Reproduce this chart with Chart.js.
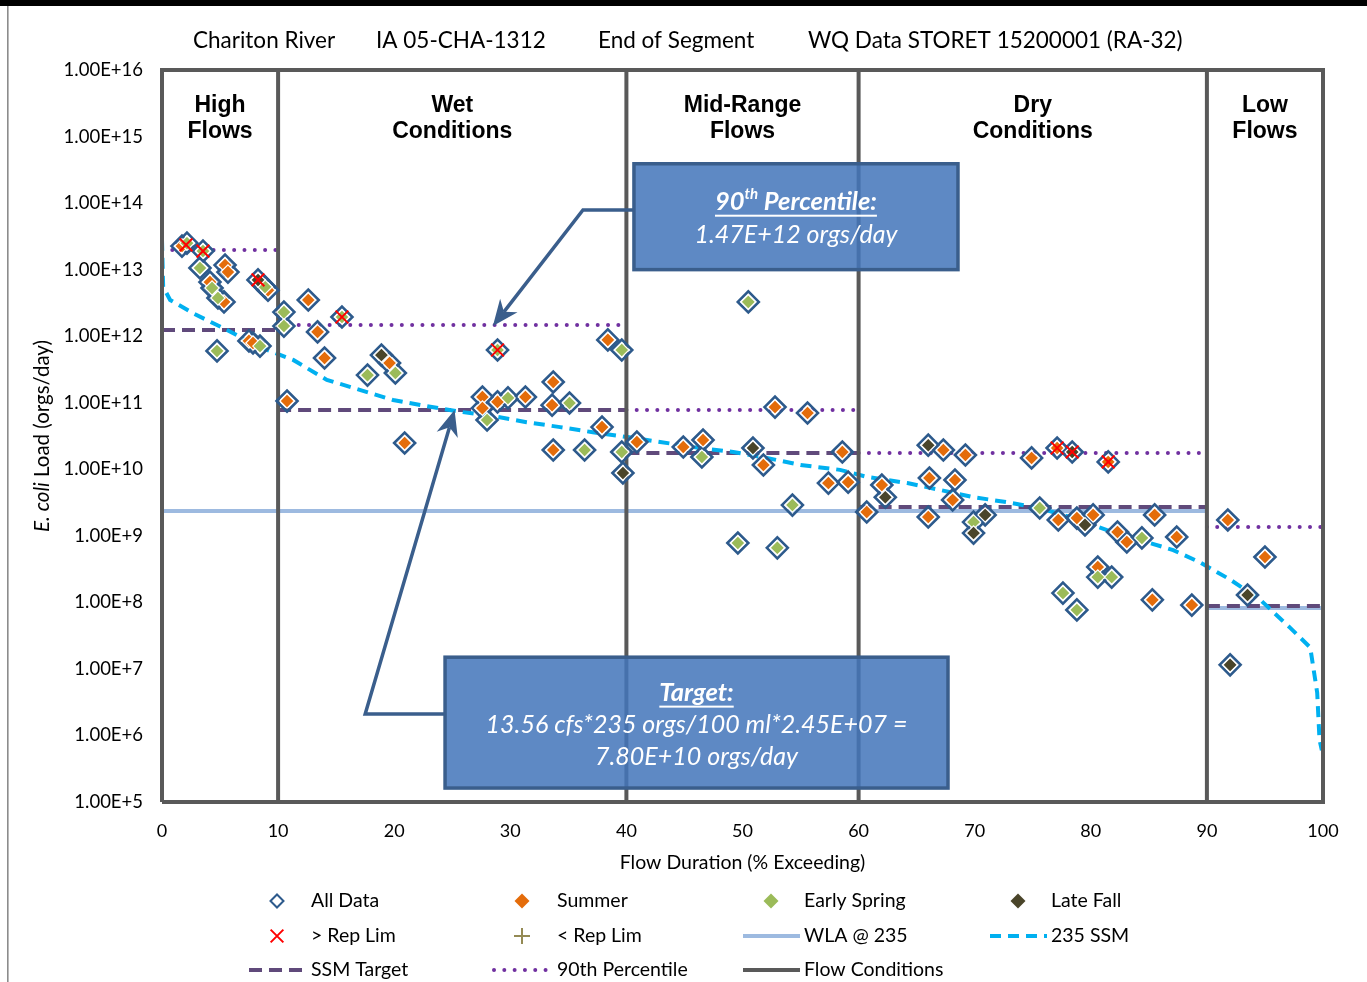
<!DOCTYPE html>
<html>
<head>
<meta charset="utf-8">
<script src="https://cdn.jsdelivr.net/npm/chart.js@4.4.0/dist/chart.umd.min.js"></script>
<style>
  html, body { margin: 0; padding: 0; background: #fff; }
  canvas { display: block; }
</style>
</head>
<body>
<canvas id="c" width="1367" height="982"></canvas>
<script>
// axes
const xTicks = [0, 10, 20, 30, 40, 50, 60, 70, 80, 90, 100];
const yTicks = [1e5, 1e6, 1e7, 1e8, 1e9, 1e10, 1e11, 1e12, 1e13, 1e14, 1e15, 1e16];

// flow zones
const flowEdges = [0, 10, 40, 60, 90, 100];
const zoneNames = [['High', 'Flows'], ['Wet', 'Conditions'], ['Mid-Range', 'Flows'], ['Dry', 'Conditions'], ['Low', 'Flows']];

// step lines per zone
const pct90Vals     = [1.97e13, 1.47e12, 7.8e10, 1.76e10, 1.36e9];
const ssmTargetVals = [1.24e12, 7.80e10, 1.76e10, 2.7e9, 8.8e7];
const wlaEdges = [0, 90, 100];
const wlaVals  = [2.36e9, 8.2e7];

// 235 SSM curve
const ssmCurveX = [0, 0.1, 0.7, 2.7, 5.6, 8.4, 11.3, 14.2, 17.1, 19.9, 22.8, 25.7, 28.5, 31.4, 34.3, 37.1, 40.1, 42.9, 46.3, 49.2, 52.1, 55.0, 58.4, 60.7, 64.2, 67.0, 69.9, 72.8, 75.6, 78.5, 81.4, 84.2, 87.1, 89.4, 92.0, 94.6, 97.2, 98.9, 99.5, 99.7, 99.9];
const ssmCurveY = [2.8e13, 5.5e12, 3.5e12, 2.2e12, 1.24e12, 6.9e11, 4.4e11, 2.2e11, 1.55e11, 1.1e11, 8.9e10, 7.3e10, 6.3e10, 5.1e10, 4.3e10, 3.6e10, 3.05e10, 2.57e10, 2.09e10, 1.82e10, 1.48e10, 1.16e10, 9.8e9, 7.7e9, 6.2e9, 4.9e9, 3.8e9, 3.2e9, 2.6e9, 1.85e9, 1.22e9, 8.7e8, 6.1e8, 4.0e8, 2.2e8, 1.09e8, 4.1e7, 2.1e7, 4.4e6, 8.6e5, 6e5];

// samples [flow %, orgs/day]
const summer = [
  [1.72, 2.26e13], [5.43, 1.17e13], [5.68, 9.2e12], [4.13, 6.5e12], [5.34, 3.27e12], [9.13, 4.9e12],
  [7.49, 8.5e11], [7.84, 7.9e11], [10.77, 1.06e11], [12.6, 3.5e12], [13.4, 1.16e12], [14.0, 4.7e11],
  [19.6, 3.95e11], [20.9, 2.48e10], [27.6, 1.22e11], [27.6, 8.3e10], [28.9, 1.03e11], [31.3, 1.22e11],
  [33.7, 2.05e11], [33.6, 9.2e10], [33.7, 1.95e10], [37.9, 4.3e10], [38.4, 8.8e11], [40.9, 2.57e10],
  [44.9, 2.16e10], [46.6, 2.75e10], [51.8, 1.16e10], [52.8, 8.6e10], [55.6, 7.0e10], [58.6, 1.82e10],
  [57.4, 6.2e9], [59.1, 6.4e9], [60.7, 2.28e9], [62.0, 5.8e9], [67.3, 1.95e10], [69.2, 1.64e10],
  [66.1, 7.4e9], [68.3, 6.9e9], [68.1, 3.46e9], [66.0, 1.92e9], [74.9, 1.48e10], [77.1, 2.09e10],
  [81.5, 1.29e10], [77.2, 1.73e9], [78.8, 1.85e9], [80.2, 2.06e9], [82.3, 1.14e9], [83.1, 8.1e8],
  [85.5, 2.06e9], [87.4, 9.6e8], [80.6, 3.4e8], [85.3, 1.09e8], [88.7, 9.1e7], [91.8, 1.73e9], [95.0, 4.8e8]
];
const earlySpring = [
  [2.15, 2.5e13], [3.53, 1.9e13], [3.27, 1.06e13], [4.31, 5.3e12], [4.82, 3.75e12], [8.87, 5.5e12],
  [10.5, 2.3e12], [10.5, 1.42e12], [8.44, 7.1e11], [4.74, 6.0e11], [15.5, 1.94e12], [20.1, 2.8e11],
  [17.7, 2.6e11], [28.9, 6.2e11], [28.0, 5.5e10], [29.8, 1.18e11], [35.1, 9.9e10], [36.4, 1.95e10],
  [39.6, 6.2e11], [39.6, 1.82e10], [46.5, 1.53e10], [50.5, 3.27e12], [54.3, 2.9e9], [49.6, 7.8e8],
  [53.0, 6.6e8], [69.9, 1.61e9], [75.6, 2.62e9], [84.4, 9.3e8], [80.6, 2.4e8], [81.8, 2.4e8],
  [77.6, 1.38e8], [78.8, 7.7e7]
];
const lateFall = [
  [8.27, 7.0e12], [18.9, 5.2e11], [39.7, 8.8e9], [50.9, 2.09e10], [62.3, 3.8e9], [66.0, 2.3e10],
  [70.9, 2.06e9], [69.9, 1.1e9], [78.4, 1.82e10], [79.5, 1.46e9], [93.5, 1.29e8], [92.0, 1.15e7]
];
const overRepLim = [
  [2.07, 2.35e13], [3.53, 1.9e13], [8.27, 7.0e12], [15.5, 1.94e12], [28.9, 6.2e11],
  [77.1, 2.09e10], [78.4, 1.82e10], [81.5, 1.29e10]
];
const underRepLim = [];

// callouts, in data units
const box90 = { x0: 40.65, x1: 68.56, y0: 3.9e14, y1: 1.0e13 };
const arrow90 = [[40.6, 7.9e13], [36.26, 7.9e13], [28.5, 1.42e12]];
const boxTarget = { x0: 24.38, x1: 67.7, y0: 1.5e7, y1: 1.62e5 };
const arrowTarget = [[24.3, 2.1e6], [17.5, 2.1e6], [25.2, 7.8e10]];

const toPts = arr => arr.map(([x, y]) => ({ x, y }));
function stepData(edges, vals) {
  const out = [];
  vals.forEach((v, i) => {
    out.push({ x: edges[i], y: v }, { x: edges[i + 1], y: v });
    if (i < vals.length - 1) out.push({ x: edges[i + 1], y: null });
  });
  return out;
}
function flowFrame() {
  const lo = yTicks[0], hi = yTicks[yTicks.length - 1];
  const first = flowEdges[0], last = flowEdges[flowEdges.length - 1];
  const out = [{ x: first, y: lo }, { x: first, y: hi }, { x: last, y: hi }, { x: last, y: lo }, { x: first, y: lo }];
  flowEdges.slice(1, -1).forEach(e => out.push({ x: e, y: null }, { x: e, y: lo }, { x: e, y: hi }));
  return out;
}

const BLUE = '#2D5A8C';
const pointDs = (label, data, style, order, extra) => Object.assign({
  label, data, showLine: false, order, pointStyle: style
}, extra);
const lineDs = (label, data, color, width, dash, order, extra) => Object.assign({
  label, data, showLine: true, pointRadius: 0, borderColor: color, borderWidth: width,
  borderDash: dash, order, tension: 0, spanGaps: false
}, extra);

const datasets = [
  lineDs('WLA @ 235', stepData(wlaEdges, wlaVals), '#9DBAE0', 4, [], 10),
  lineDs('SSM Target', stepData(flowEdges, ssmTargetVals), '#604A7B', 4, [13, 7], 9),
  lineDs('90th Percentile', stepData(flowEdges, pct90Vals), '#7030A0', 4, [0.01, 10.3], 8, { borderCapStyle: 'round' }),
  lineDs('235 SSM', ssmCurveX.map((x, i) => ({ x, y: ssmCurveY[i] })), '#00B0F0', 4, [11, 7], 7),
  lineDs('Flow Conditions', flowFrame(), '#595959', 4, [], 6, { clip: false }),
  pointDs('All Data', toPts([...summer, ...earlySpring, ...lateFall]), 'rectRot', 5,
    { pointRadius: 10.5, pointBackgroundColor: 'rgba(0,0,0,0)', pointBorderColor: BLUE, pointBorderWidth: 2.6, legendRadius: 6.5, legendBorder: 2 }),
  pointDs('Summer', toPts(summer), 'rectRot', 4,
    { pointRadius: 7.2, pointBackgroundColor: '#E46C0A', pointBorderColor: '#fff', pointBorderWidth: 1.2, legendRadius: 7.5, legendBorder: 0 }),
  pointDs('Early Spring', toPts(earlySpring), 'rectRot', 3,
    { pointRadius: 7.2, pointBackgroundColor: '#9BBB59', pointBorderColor: '#fff', pointBorderWidth: 1.2, legendRadius: 7.5, legendBorder: 0 }),
  pointDs('Late Fall', toPts(lateFall), 'rectRot', 2,
    { pointRadius: 7.2, pointBackgroundColor: '#4A452A', pointBorderColor: '#fff', pointBorderWidth: 1.2, legendRadius: 7.5, legendBorder: 0 }),
  pointDs('> Rep Lim', toPts(overRepLim), 'crossRot', 1,
    { pointRadius: 9, pointBackgroundColor: '#FF0000', pointBorderColor: '#FF0000', pointBorderWidth: 2, legendRadius: 9, legendBorder: 2 }),
  pointDs('< Rep Lim', toPts(underRepLim), 'cross', 0,
    { pointRadius: 8, pointBackgroundColor: '#948A54', pointBorderColor: '#948A54', pointBorderWidth: 2, legendRadius: 8, legendBorder: 2 })
];

const legendRows = [
  ['All Data', 'Summer', 'Early Spring', 'Late Fall'],
  ['> Rep Lim', '< Rep Lim', 'WLA @ 235', '235 SSM'],
  ['SSM Target', '90th Percentile', 'Flow Conditions']
];
const legendColX = [277, 522, 771, 1018];
const legendTextX = [311, 557, 804, 1051];
const legendRowY = [901, 936, 970];

const titleParts = ['Chariton River', 'IA 05-CHA-1312', 'End of Segment', 'WQ Data STORET 15200001 (RA-32)'];
const titleX = [193, 376, 598, 808];

const CAL = 'Lato, "Open Sans", sans-serif';
const ARIAL = '"Liberation Sans", Arial, sans-serif';

function drawArrow(ctx, pts, color) {
  ctx.save();
  ctx.strokeStyle = color; ctx.fillStyle = color; ctx.lineWidth = 3.5; ctx.lineJoin = 'miter';
  const n = pts.length;
  const [tx, ty] = pts[n - 1], [px, py] = pts[n - 2];
  const ang = Math.atan2(ty - py, tx - px);
  const L = 26, W = 11, N = 8;
  ctx.beginPath();
  ctx.moveTo(pts[0][0], pts[0][1]);
  for (let i = 1; i < n - 1; i++) ctx.lineTo(pts[i][0], pts[i][1]);
  ctx.lineTo(tx - Math.cos(ang) * (L - N), ty - Math.sin(ang) * (L - N));
  ctx.stroke();
  const c = Math.cos(ang), s = Math.sin(ang);
  ctx.beginPath();
  ctx.moveTo(tx, ty);
  ctx.lineTo(tx - c * L - s * W, ty - s * L + c * W);
  ctx.lineTo(tx - c * (L - N), ty - s * (L - N));
  ctx.lineTo(tx - c * L + s * W, ty - s * L - c * W);
  ctx.closePath();
  ctx.fill();
  ctx.restore();
}

function drawBox(ctx, chart, b) {
  const xs = chart.scales.x, ys = chart.scales.y;
  const x0 = xs.getPixelForValue(b.x0), x1 = xs.getPixelForValue(b.x1);
  const y0 = ys.getPixelForValue(b.y0), y1 = ys.getPixelForValue(b.y1);
  ctx.save();
  ctx.fillStyle = 'rgba(68,118,186,0.86)';
  ctx.fillRect(x0, y0, x1 - x0, y1 - y0);
  ctx.strokeStyle = '#3A5E8C'; ctx.lineWidth = 3.5;
  ctx.strokeRect(x0, y0, x1 - x0, y1 - y0);
  ctx.restore();
  return { cx: (x0 + x1) / 2, cy: (y0 + y1) / 2 };
}

function underlined(ctx, parts, cx, y) {
  // parts: [text, font, dy]
  let total = 0;
  parts.forEach(p => { ctx.font = p[1]; p.w = ctx.measureText(p[0]).width; total += p.w; });
  let x = cx - total / 2;
  const start = x;
  parts.forEach(p => { ctx.font = p[1]; ctx.textAlign = 'left'; ctx.fillText(p[0], x, y + (p[2] || 0)); x += p.w; });
  ctx.fillRect(start, y + 13, total, 2);
}

const decor = {
  id: 'decor',
  beforeDraw(chart) {
    const ctx = chart.ctx;
    ctx.save();
    ctx.fillStyle = '#fff'; ctx.fillRect(0, 0, chart.width, chart.height);
    ctx.fillStyle = '#000'; ctx.fillRect(0, 0, chart.width, 6);
    ctx.fillStyle = '#8C8C8C'; ctx.fillRect(7, 6, 1.6, chart.height - 6);
    ctx.restore();
  },
  afterDatasetsDraw(chart) {
    const ctx = chart.ctx, xs = chart.scales.x, ys = chart.scales.y;
    const toPx = p => [xs.getPixelForValue(p[0]), ys.getPixelForValue(p[1])];
    ctx.save();
    // zone labels
    ctx.fillStyle = '#000'; ctx.font = 'bold 23px ' + ARIAL; ctx.textAlign = 'center'; ctx.textBaseline = 'middle';
    zoneNames.forEach((nm, i) => {
      const cx = xs.getPixelForValue((flowEdges[i] + flowEdges[i + 1]) / 2);
      ctx.fillText(nm[0], cx, 106);
      ctx.fillText(nm[1], cx, 132);
    });
    // callouts
    drawArrow(ctx, arrow90.map(toPx), '#3A5E8C');
    drawArrow(ctx, arrowTarget.map(toPx), '#3A5E8C');
    const c1 = drawBox(ctx, chart, box90);
    ctx.fillStyle = '#fff'; ctx.textBaseline = 'middle';
    underlined(ctx, [['90', 'italic bold 25.5px ' + CAL], ['th', 'italic bold 15px ' + CAL, -8], [' Percentile:', 'italic bold 25.5px ' + CAL]], c1.cx, c1.cy - 15);
    ctx.font = 'italic 25px ' + CAL; ctx.textAlign = 'center';
    ctx.fillText('1.47E+12 orgs/day', c1.cx, c1.cy + 18);
    const c2 = drawBox(ctx, chart, boxTarget);
    ctx.fillStyle = '#fff';
    underlined(ctx, [['Target:', 'italic bold 25.5px ' + CAL]], c2.cx, c2.cy - 30);
    ctx.font = 'italic 25px ' + CAL; ctx.textAlign = 'center';
    ctx.fillText('13.56 cfs*235 orgs/100 ml*2.45E+07 =', c2.cx, c2.cy + 2);
    ctx.fillText('7.80E+10 orgs/day', c2.cx, c2.cy + 34);
    ctx.restore();
  },
  afterDraw(chart) {
    const ctx = chart.ctx, area = chart.chartArea;
    ctx.save();
    ctx.fillStyle = '#000'; ctx.textBaseline = 'middle'; ctx.textAlign = 'left';
    // title
    ctx.font = '22.5px ' + CAL;
    titleParts.forEach((t, i) => ctx.fillText(t, titleX[i], 41));
    // x title
    ctx.font = '19.5px ' + CAL; ctx.textAlign = 'center';
    ctx.fillText('Flow Duration (% Exceeding)', (area.left + area.right) / 2, 863);
    // y title
    ctx.save();
    ctx.translate(42, (area.top + area.bottom) / 2);
    ctx.rotate(-Math.PI / 2);
    ctx.font = 'italic 20.5px ' + CAL; const w1 = ctx.measureText('E. coli').width;
    ctx.font = '20.5px ' + CAL; const w2 = ctx.measureText(' Load (orgs/day)').width;
    ctx.textAlign = 'left';
    ctx.font = 'italic 20.5px ' + CAL; ctx.fillText('E. coli', -(w1 + w2) / 2, 0);
    ctx.font = '20.5px ' + CAL; ctx.fillText(' Load (orgs/day)', -(w1 + w2) / 2 + w1, 0);
    ctx.restore();
    // legend
    legendRows.forEach((row, r) => row.forEach((label, c) => {
      const ds = chart.data.datasets.find(d => d.label === label);
      const x = legendColX[c], y = legendRowY[r];
      ctx.save();
      if (ds.showLine) {
        ctx.strokeStyle = ds.borderColor; ctx.lineWidth = ds.borderWidth;
        ctx.setLineDash(ds.borderDash || []); ctx.lineCap = ds.borderCapStyle || 'butt';
        ctx.beginPath(); ctx.moveTo(x - 28, y); ctx.lineTo(x + 29, y); ctx.stroke();
      } else {
        ctx.fillStyle = ds.pointBackgroundColor; ctx.strokeStyle = ds.pointBorderColor; ctx.lineWidth = ds.legendBorder;
        Chart.helpers.drawPoint(ctx, { pointStyle: ds.pointStyle, rotation: 0, radius: ds.legendRadius, borderWidth: ds.legendBorder }, x, y);
      }
      ctx.restore();
      ctx.font = '19.5px ' + CAL; ctx.textAlign = 'left'; ctx.fillStyle = '#000';
      ctx.fillText(label, legendTextX[c], y);
    }));
    ctx.restore();
  }
};

new Chart(document.getElementById('c'), {
  type: 'scatter',
  data: { datasets },
  options: {
    responsive: false,
    animation: false,
    events: [],
    layout: { padding: { top: 70, right: 44, bottom: 0, left: 0 } },
    plugins: { legend: { display: false }, tooltip: { enabled: false }, title: { display: false } },
    scales: {
      x: {
        type: 'linear', min: 0, max: 100,
        afterBuildTicks: s => { s.ticks = xTicks.map(v => ({ value: v })); },
        ticks: { color: '#000', font: { family: CAL, size: 18 }, padding: 18, maxRotation: 0, autoSkip: false },
        grid: { display: false, drawTicks: false }, border: { display: false },
        afterFit: s => { s.height = 180; }
      },
      y: {
        type: 'logarithmic', min: yTicks[0], max: yTicks[yTicks.length - 1],
        afterBuildTicks: s => { s.ticks = yTicks.map(v => ({ value: v })); },
        ticks: { color: '#000', font: { family: CAL, size: 18.5 }, padding: 19, autoSkip: false,
          callback: v => Number(v).toExponential(2).toUpperCase() },
        grid: { display: false, drawTicks: false }, border: { display: false },
        afterFit: s => { s.width = 162; }
      }
    }
  },
  plugins: [decor]
});
</script>
</body>
</html>
